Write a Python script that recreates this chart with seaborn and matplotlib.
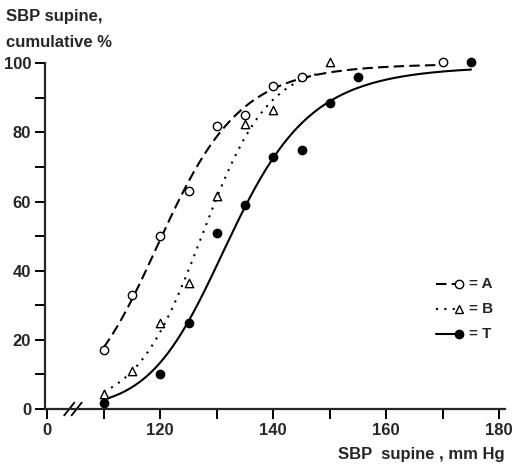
import numpy as np
import pandas as pd
import matplotlib
matplotlib.use("Agg")
import matplotlib.pyplot as plt
import seaborn as sns

sns.set_theme(style="ticks")
plt.rcParams['font.family'] = ['Liberation Sans', 'DejaVu Sans']
plt.rcParams['font.weight'] = 'bold'

# points (x = SBP supine mmHg, y = cumulative %)
a_x = [110, 115, 120, 125, 130, 135, 140, 145, 170]
a_y = [17, 33, 50, 63, 82, 85, 93.5, 96, 100.5]
b_x = [110, 115, 120, 125, 130, 135, 140, 150]
b_y = [4.3, 11, 25, 36.5, 61.5, 82.5, 86.5, 100.5]
t_x = [110, 120, 125, 130, 135, 140, 145, 150, 155, 175]
t_y = [1.7, 10, 25, 51, 59, 73, 75, 88.5, 96, 100.5]

groups = ["A", "B", "T"]
xs = [a_x, b_x, t_x]
ys = [a_y, b_y, t_y]
curve_end = [170, 148, 175]

x_ticks = [100, 110, 120, 130, 140, 150, 160, 170, 180]
x_labels = ["0", "", "120", "", "140", "", "160", "", "180"]
y_ticks = list(range(0, 101, 10))
y_labels = [str(v) if v % 20 == 0 else "" for v in y_ticks]

# smooth fitted curves (weighted quadratic in logit)
curves = []
for g, x, y, xe in zip(groups, xs, ys, curve_end):
    p = np.clip(np.array(y) / 100, 0.005, 0.995)
    lg = np.log(p / (1 - p))
    c = np.polyfit(x, lg, 2, w=np.sqrt(p * (1 - p)))
    xx = np.linspace(x[0], xe, 200)
    yy = 100 / (1 + np.exp(-np.polyval(c, xx)))
    curves.append(pd.DataFrame({"x": xx, "y": yy, "g": g}))
df_curve = pd.concat(curves)
df_pts = pd.concat([pd.DataFrame({"x": x, "y": y, "g": g}) for g, x, y in zip(groups, xs, ys)])

fig = plt.figure(figsize=(5.15, 4.69), dpi=100)
ax = fig.add_axes([0.0874, 0.128, 0.893, 0.759])

styles = {"A": dict(ls=(0, (5, 2.5)), marker="o", fc="white"),
          "B": dict(ls=(0, (1, 3)), marker="^", fc="white"),
          "T": dict(ls="-", marker="o", fc="black")}

for g in groups:
    s = styles[g]
    sns.lineplot(data=df_curve[df_curve.g == g], x="x", y="y", ax=ax,
                 color="black", lw=1.5, linestyle=s["ls"], clip_on=False)
    sns.scatterplot(data=df_pts[df_pts.g == g], x="x", y="y", ax=ax,
                    marker=s["marker"], s=36, facecolor=s["fc"],
                    edgecolor="black", linewidth=1.0, zorder=3, clip_on=False)

ax.set_xlim(99.6, 181)
ax.set_ylim(0, 103)
ax.spines[["top", "right"]].set_visible(False)
ax.spines["left"].set_bounds(0, 100)
ax.spines["left"].set_linewidth(1.6)
ax.spines["bottom"].set_linewidth(1.6)
ax.set_xticks(x_ticks)
ax.set_xticklabels(x_labels, fontsize=12, fontweight="bold")
ax.set_yticks(y_ticks)
ax.set_yticklabels(y_labels, fontsize=12, fontweight="bold")
ax.tick_params(axis="both", length=7, width=1.4, color="black", pad=3)
ax.set_xlabel("")
ax.set_ylabel("")

# axis break marks
for dx in [103.9, 105.2]:
    ax.plot([dx - 0.9, dx + 0.9], [-0.018, 0.018], color="black", lw=1.3,
            transform=ax.get_xaxis_transform(), clip_on=False)

fig.text(0.012, 0.965, "SBP supine,", fontsize=12, fontweight="bold", va="center")
fig.text(0.012, 0.91, "cumulative %", fontsize=12, fontweight="bold", va="center")
fig.text(0.98, 0.03, "SBP  supine , mm Hg", fontsize=12, fontweight="bold",
         ha="right", va="center")

# key drawn like the original: line then marker, then "= label"
for i, g in enumerate(groups):
    s = styles[g]
    yk = 0.35 - i * 0.07
    ax.plot([0.85, 0.9], [yk, yk], color="black", lw=1.5, linestyle=s["ls"],
            transform=ax.transAxes)
    ax.plot([0.9], [yk], marker=s["marker"], ms=6, mfc=s["fc"], mec="black",
            mew=1.0, transform=ax.transAxes)
    ax.text(0.922, yk, "= " + g, fontsize=11, fontweight="bold", va="center",
            transform=ax.transAxes)

fig.savefig("out.png", dpi=100)
